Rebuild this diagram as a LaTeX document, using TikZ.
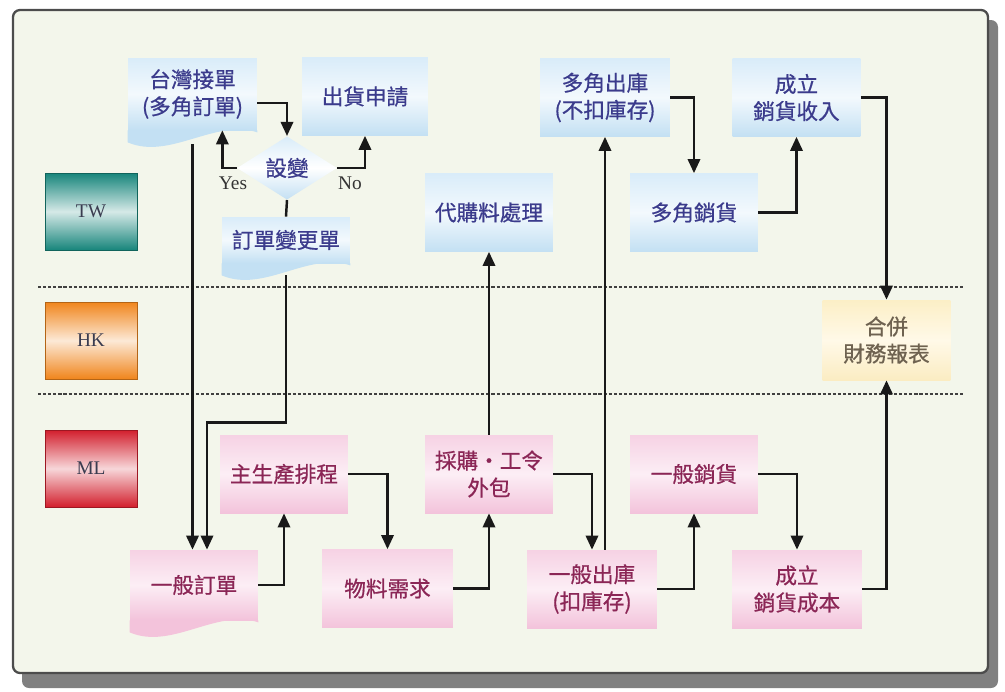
\documentclass[tikz,border=0pt]{standalone}
\usepackage{fontspec}
\setmainfont{Liberation Serif}
\newfontfamily\cjk[FakeBold=0.7]{Noto Sans CJK TC}
\usetikzlibrary{positioning,calc,arrows.meta,shapes.geometric}

\definecolor{framebg}{HTML}{F3F6EB}
\definecolor{twtop}{HTML}{D9ECF9}
\definecolor{twmid}{HTML}{F3F9FD}
\definecolor{twbot}{HTML}{C3E0F3}
\definecolor{twtext}{HTML}{3B3B8C}
\definecolor{mltop}{HTML}{F6D2E4}
\definecolor{mlmid}{HTML}{FCEEF5}
\definecolor{mlbot}{HTML}{F3C3DB}
\definecolor{mltext}{HTML}{8B2656}
\definecolor{hktop}{HTML}{FCEFC6}
\definecolor{hkmid}{HTML}{FFF9E8}
\definecolor{hkbot}{HTML}{FBECC2}
\definecolor{hktext}{HTML}{6E6250}
\definecolor{twteal}{HTML}{17857B}
\definecolor{hkorange}{HTML}{F0851C}
\definecolor{mlred}{HTML}{D21F2D}
\definecolor{lanetext}{HTML}{3A3C50}

% wavy bottom of a document node: #1 node, #2 colour
\newcommand\docwave[2]{%
  \fill[#2] (#1.south west) -- ($(#1.south west)+(0,12)$)
    .. controls ($(#1.south west)+(42,30)$) and ($(#1.south east)+(-42,-12)$) ..
    ($(#1.south east)+(0,2)$) -- (#1.south east) -- cycle;}

\begin{document}
\begin{tikzpicture}[x=0.02cm,y=-0.02cm,
  every node/.style={inner sep=0pt,align=center},
  box/.style={minimum width=2.56cm,minimum height=1.56cm,font=\cjk\fontsize{12.3}{15.4}\selectfont},
  twbox/.style={box,top color=twtop,bottom color=twbot,middle color=twmid,text=twtext},
  mlbox/.style={box,top color=mltop,bottom color=mlbot,middle color=mlmid,text=mltext},
  hkbox/.style={box,top color=hktop,bottom color=hkbot,middle color=hkmid,text=hktext},
  lane/.style={minimum width=1.84cm,minimum height=1.54cm,draw=#1!75!black,line width=0.4pt,
    top color=#1,bottom color=#1,middle color=#1!18!white,text=lanetext,font=\fontsize{11}{13}\selectfont},
  tag/.style={text=black!80,font=\fontsize{11}{13}\selectfont},
  link/.style={line width=1.4pt,black!90,-{Triangle[length=8pt,width=7pt]}},
  sep/.style={line width=1.6pt,black!75,dash pattern=on 1.8pt off 1.1pt}]
  \useasboundingbox (0,0) rectangle (1005,691);

  % frame
  \fill[black!50,rounded corners=4pt] (22,20) rectangle (998,688);
  \draw[black!70,line width=1.3pt,fill=framebg,rounded corners=4pt] (13,10) rectangle (988,673);
  \draw[sep] (38,287) -- (965,287);
  \draw[sep] (38,394) -- (965,394);

  % lanes
  \node[lane=twteal]   (tw) at (91,211.5) {TW};
  \node[lane=hkorange] (hk) at (91,340.5) {HK};
  \node[lane=mlred]    (ml) at (91,468.5) {ML};

  % TW
  \node[twbox,minimum width=2.58cm,minimum height=1.44cm] (twOrder) at (192.5,94) {台灣接單\\(多角訂單)};
  \docwave{twOrder}{twbot}
  \node[twbox,minimum width=2.52cm] (req) at (365,96.5) {出貨申請};
  \node[diamond,minimum width=2cm,minimum height=1.14cm,top color=twtop,bottom color=twbot,middle color=white,
    text=twtext,font=\cjk\fontsize{12.3}{15.4}\selectfont] (chg) at (287,168) {設變};
  \node[tag] (yesLbl) at (233,183) {Yes};
  \node[tag] (noLbl) at (350,183) {No};
  \node[twbox,minimum height=0.92cm] (ecn) at (286,240) {訂單變更單};
  \docwave{ecn}{twbot}
  \node[twbox] (purch) at (489,212.5) {代購料處理};
  \node[twbox,minimum width=2.6cm] (mout) at (605,97.5) {多角出庫\\(不扣庫存)};
  \node[twbox] (msale) at (694,212.5) {多角銷貨};
  \node[twbox] (mrev) at (796.5,97.5) {成立\\銷貨收入};

  % HK
  \node[hkbox,minimum height=1.6cm] (cons) at (886.5,340) {合併\\財務報表};

  % ML
  \node[mlbox] (mps) at (284,474) {主生產排程};
  \node[mlbox,minimum height=1.4cm] (ord) at (194,585) {一般訂單};
  \docwave{ord}{mlbot}
  \node[mlbox,minimum width=2.62cm] (mrp) at (387.5,588.5) {物料需求};
  \node[mlbox] (po) at (489,474) {採購・工令\\外包};
  \node[mlbox,minimum width=2.6cm] (gout) at (592,589) {一般出庫\\(扣庫存)};
  \node[mlbox] (gsale) at (694,474) {一般銷貨};
  \node[mlbox,minimum width=2.6cm] (gcost) at (797,589) {成立\\銷貨成本};

  % links
  \draw[link] ($(twOrder.east)+(0,9)$) -| (chg.north);
  \draw[link] (chg.west) -| ($(twOrder.south east)+(-35,0)$);
  \draw[link] (chg.east) -| (req.south);
  \draw[line width=1.4pt,black!90] (chg.south) -- (ecn.north);
  \draw[link] ($(twOrder.south)+(0,14)$) -- (twOrder.south |- ord.north);
  \draw[link] ($(ecn.south)+(0,12)$) |- ($(ord.north)+(13,-127)$) -- ($(ord.north)+(13,0)$);
  \draw[link] (ord.east) -| (mps.south);
  \draw[link] (mps.east) -| (mrp.north);
  \draw[link] (mrp.east) -| (po.south);
  \draw[link] (po.east) -| (gout.north);
  \draw[link] (po.north) -- (purch.south);
  \draw[link] (mout.south |- gout.north) -- (mout.south);
  \draw[link] (gout.east) -| (gsale.south);
  \draw[link] (gsale.east) -| (gcost.north);
  \draw[link] (gcost.east) -| (cons.south);
  \draw[link] (mout.east) -| (msale.north);
  \draw[link] (msale.east) -| (mrev.south);
  \draw[link] (mrev.east) -| (cons.north);
\end{tikzpicture}
\end{document}
